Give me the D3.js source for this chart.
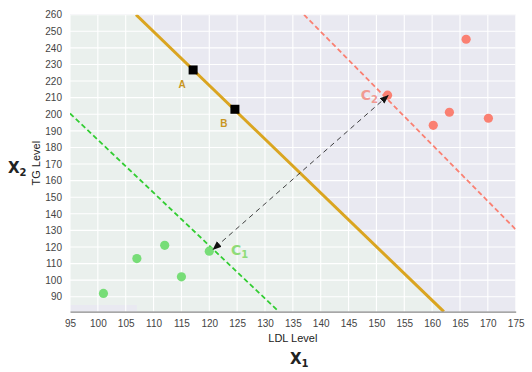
<!DOCTYPE html>
<html>
<head>
<meta charset="utf-8">
<script src="https://cdn.jsdelivr.net/npm/d3@7"></script>
<style>
  body { margin: 0; background: #fff; }
  svg text { font-family: "Liberation Sans", Arial, sans-serif; }
</style>
</head>
<body>
<svg id="chart" width="532" height="372"></svg>
<script>
'use strict'

// cluster points (LDL, TG)
const greenX = [101, 107, 112, 115, 120]
const greenY = [92, 113, 121, 102, 117.5]
const redX = [152, 160.2, 163.1, 166.1, 170.1]
const redY = [211.5, 193.3, 201.2, 245.2, 197.6]

// decision boundary + margin lines (endpoints)
const boundX = [106.85, 162.1], boundY = [260, 81]
const greenLineX = [95, 132.5], greenLineY = [200.5, 81]
const redLineX = [137, 175], redLineY = [260, 130.6]

// support points on the boundary
const markX = [117.1, 124.6], markY = [226.7, 203]
const markNames = ['A', 'B']

// arrow between the two centroids
const arrowX = [152.1, 120.7], arrowY = [211.3, 118.6]

// small uncovered strip at bottom left
const stripX = [95, 107], stripY = [81, 85]

const xTicks = d3.range(95, 176, 5)
const yTicks = d3.range(90, 261, 10)

const W = 532, H = 372
const margin = { top: 14.7, right: 16.3, bottom: 60.3, left: 70 }

const x = d3.scaleLinear().domain([95, 175]).range([margin.left, W - margin.right])
const y = d3.scaleLinear().domain([81, 260]).range([H - margin.bottom, margin.top])

const svg = d3.select('#chart')

svg.append('defs').append('marker')
    .attr('id', 'head')
    .attr('viewBox', '0 0 10 10')
    .attr('refX', 9).attr('refY', 5)
    .attr('markerWidth', 9).attr('markerHeight', 9)
    .attr('markerUnits', 'userSpaceOnUse')
    .attr('orient', 'auto-start-reverse')
    .append('path')
    .attr('d', 'M0,1 L10,5 L0,9 Z')
    .attr('fill', '#111')

svg.append('clipPath').attr('id', 'plotclip')
    .append('rect')
    .attr('x', x(95)).attr('y', y(260))
    .attr('width', x(175) - x(95)).attr('height', y(81) - y(260))

// background
svg.append('rect')
    .attr('x', x(95)).attr('y', y(260))
    .attr('width', x(175) - x(95)).attr('height', y(81) - y(260))
    .attr('fill', '#e9e9f1')

// shaded region below the boundary
const fillPts = [
    [95, 260], [boundX[0], boundY[0]], [boundX[1], boundY[1]],
    [stripX[1], stripY[0]], [stripX[1], stripY[1]], [stripX[0], stripY[1]]
]
svg.append('path')
    .attr('d', d3.line().x(d => x(d[0])).y(d => y(d[1]))(fillPts) + 'Z')
    .attr('fill', '#eaf0ed')

// grid
const plot = svg.append('g').attr('clip-path', 'url(#plotclip)')
plot.selectAll('.gx').data(xTicks).enter().append('line')
    .attr('x1', d => x(d)).attr('x2', d => x(d))
    .attr('y1', y(81)).attr('y2', y(260))
    .attr('stroke', '#fff').attr('stroke-width', 1.1)
plot.selectAll('.gy').data(yTicks).enter().append('line')
    .attr('x1', x(95)).attr('x2', x(175))
    .attr('y1', d => y(d)).attr('y2', d => y(d))
    .attr('stroke', '#fff').attr('stroke-width', 1.1)

// axes
const xAxis = svg.append('g')
    .attr('transform', 'translate(0,' + y(81) + ')')
    .call(d3.axisBottom(x).tickValues(xTicks).tickSize(0).tickPadding(8).tickFormat(d3.format('d')))
xAxis.select('.domain').attr('stroke', '#8a8a8a').attr('stroke-width', 1.2)
xAxis.selectAll('text').attr('font-size', 10).attr('fill', '#444')

const yAxis = svg.append('g')
    .attr('transform', 'translate(' + x(95) + ',0)')
    .call(d3.axisLeft(y).tickValues(yTicks).tickSize(0).tickPadding(8).tickFormat(d3.format('d')))
yAxis.select('.domain').remove()
yAxis.selectAll('text').attr('font-size', 10).attr('fill', '#444')

// lines
const seg = (xs, ys) => d3.line()(xs.map((v, i) => [x(v), y(ys[i])]))
plot.append('path').attr('d', seg(greenLineX, greenLineY))
    .attr('stroke', '#32cd32').attr('stroke-width', 1.8).attr('stroke-dasharray', '5,3').attr('fill', 'none')
plot.append('path').attr('d', seg(redLineX, redLineY))
    .attr('stroke', '#fa8072').attr('stroke-width', 1.8).attr('stroke-dasharray', '5,3').attr('fill', 'none')
plot.append('path').attr('d', seg(boundX, boundY))
    .attr('stroke', '#daa520').attr('stroke-width', 3).attr('fill', 'none')

// points
plot.selectAll('.gp').data(greenX).enter().append('circle')
    .attr('cx', d => x(d)).attr('cy', (d, i) => y(greenY[i]))
    .attr('r', 4.6).attr('fill', '#77dd77')
plot.selectAll('.rp').data(redX).enter().append('circle')
    .attr('cx', d => x(d)).attr('cy', (d, i) => y(redY[i]))
    .attr('r', 4.6).attr('fill', '#fa8072')

// A, B markers
plot.selectAll('.mk').data(markX).enter().append('rect')
    .attr('x', d => x(d) - 4.5).attr('y', (d, i) => y(markY[i]) - 4.5)
    .attr('width', 9).attr('height', 9).attr('fill', '#000')
svg.selectAll('.mkl').data(markNames).enter().append('text')
    .attr('x', (d, i) => x(markX[i]) - 11).attr('y', (d, i) => y(markY[i]) + 18)
    .attr('text-anchor', 'middle')
    .attr('font-size', 10).attr('font-weight', 'bold').attr('fill', '#c8961e')
    .text(d => d)

// arrow
svg.append('path').attr('d', seg(arrowX, arrowY))
    .attr('stroke', '#111').attr('stroke-width', 0.8).attr('stroke-dasharray', '5,4')
    .attr('fill', 'none')
    .attr('marker-start', 'url(#head)').attr('marker-end', 'url(#head)')

// cluster labels
const c2 = svg.append('text').attr('x', x(147.2)).attr('y', y(208.5))
    .attr('font-size', 14).attr('font-weight', 'bold').attr('fill', '#f19a92')
    .style('font-family', 'DejaVu Sans')
c2.append('tspan').text('C')
c2.append('tspan').attr('font-size', 10).attr('dy', 3).text('2')
const c1 = svg.append('text').attr('x', x(123.9)).attr('y', y(115))
    .attr('font-size', 14).attr('font-weight', 'bold').attr('fill', '#8fdc79')
    .style('font-family', 'DejaVu Sans')
c1.append('tspan').text('C')
c1.append('tspan').attr('font-size', 10).attr('dy', 3).text('1')

// axis titles
svg.append('text').attr('x', (x(95) + x(175)) / 2).attr('y', 342)
    .attr('text-anchor', 'middle').attr('font-size', 11).attr('fill', '#222')
    .text('LDL Level')
svg.append('text').attr('transform', 'translate(40,' + (y(81) + y(260)) / 2 + ') rotate(-90)')
    .attr('text-anchor', 'middle').attr('font-size', 11).attr('fill', '#222')
    .text('TG Level')

const x1 = svg.append('text').attr('x', 290).attr('y', 364)
    .attr('font-size', 15).attr('font-weight', 'bold').attr('fill', '#222')
    .style('font-family', 'DejaVu Sans')
x1.append('tspan').text('X')
x1.append('tspan').attr('font-size', 10).attr('dy', 3).text('1')
const x2 = svg.append('text').attr('x', 8).attr('y', 173)
    .attr('font-size', 15).attr('font-weight', 'bold').attr('fill', '#222')
    .style('font-family', 'DejaVu Sans')
x2.append('tspan').text('X')
x2.append('tspan').attr('font-size', 10).attr('dy', 3).text('2')
</script>
</body>
</html>
